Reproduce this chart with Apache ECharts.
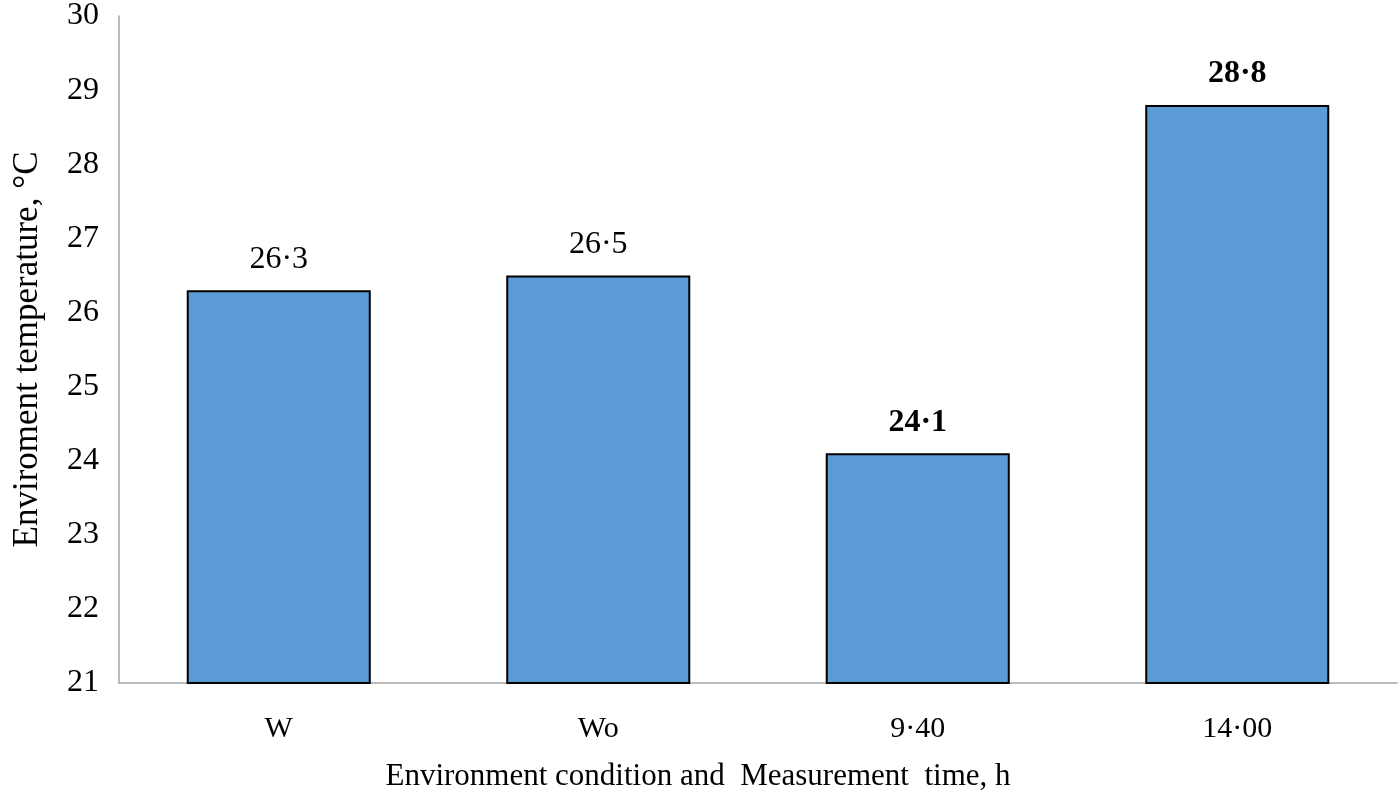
<!DOCTYPE html>
<html>
<head>
<meta charset="utf-8">
<script src="https://cdn.jsdelivr.net/npm/echarts@6/dist/echarts.min.js"></script>
<style>html,body{margin:0;padding:0;background:#fff;}#c{width:1400px;height:799px;}</style>
</head>
<body>
<div id="c"></div>
<script>
const categories = ['W', 'Wo', '9·40', '14·00'];
const values = [26.3, 26.5, 24.1, 28.8];
const valueLabels = ['26·3', '26·5', '24·1', '28·8'];
const boldLabel = [false, false, true, true];
const yTicks = [21, 22, 23, 24, 25, 26, 27, 28, 29, 30];

const font = '"Liberation Serif", "Times New Roman", serif';
const chart = echarts.init(document.getElementById('c'));
chart.setOption({
  animation: false,
  grid: { left: 119, right: 3, top: 16, bottom: 116 },
  xAxis: {
    type: 'category',
    data: categories,
    axisLine: { lineStyle: { color: '#a6a6a6', width: 1.5 } },
    axisTick: { show: false },
    axisLabel: { color: '#000', fontFamily: font, fontSize: 30, margin: 31 },
    name: 'Environment condition and  Measurement  time, h',
    nameLocation: 'middle',
    nameGap: 78,
    nameTextStyle: { color: '#000', fontFamily: font, fontSize: 31, padding: [0, 120, 0, 0] }
  },
  yAxis: {
    type: 'value',
    min: yTicks[0],
    max: yTicks[yTicks.length - 1],
    interval: 1,
    splitLine: { show: false },
    axisLine: { show: true, lineStyle: { color: '#a6a6a6', width: 1.5 } },
    axisTick: { show: false },
    axisLabel: { color: '#000', fontFamily: font, fontSize: 32, margin: 20 },
    name: 'Enviroment temperature, °C',
    nameLocation: 'middle',
    nameGap: 74,
    nameTextStyle: { color: '#000', fontFamily: font, fontSize: 35 }
  },
  series: [{
    type: 'bar',
    barWidth: '57.6%',
    data: values.map((v, i) => ({
      value: v,
      label: {
        formatter: valueLabels[i],
        fontWeight: boldLabel[i] ? 'bold' : 'normal'
      }
    })),
    itemStyle: { color: '#5b9bd5', borderColor: '#000', borderWidth: 2 },
    label: {
      show: true,
      position: 'top',
      distance: 15,
      color: '#000',
      fontFamily: font,
      fontSize: 32
    }
  }]
});
</script>
</body>
</html>
